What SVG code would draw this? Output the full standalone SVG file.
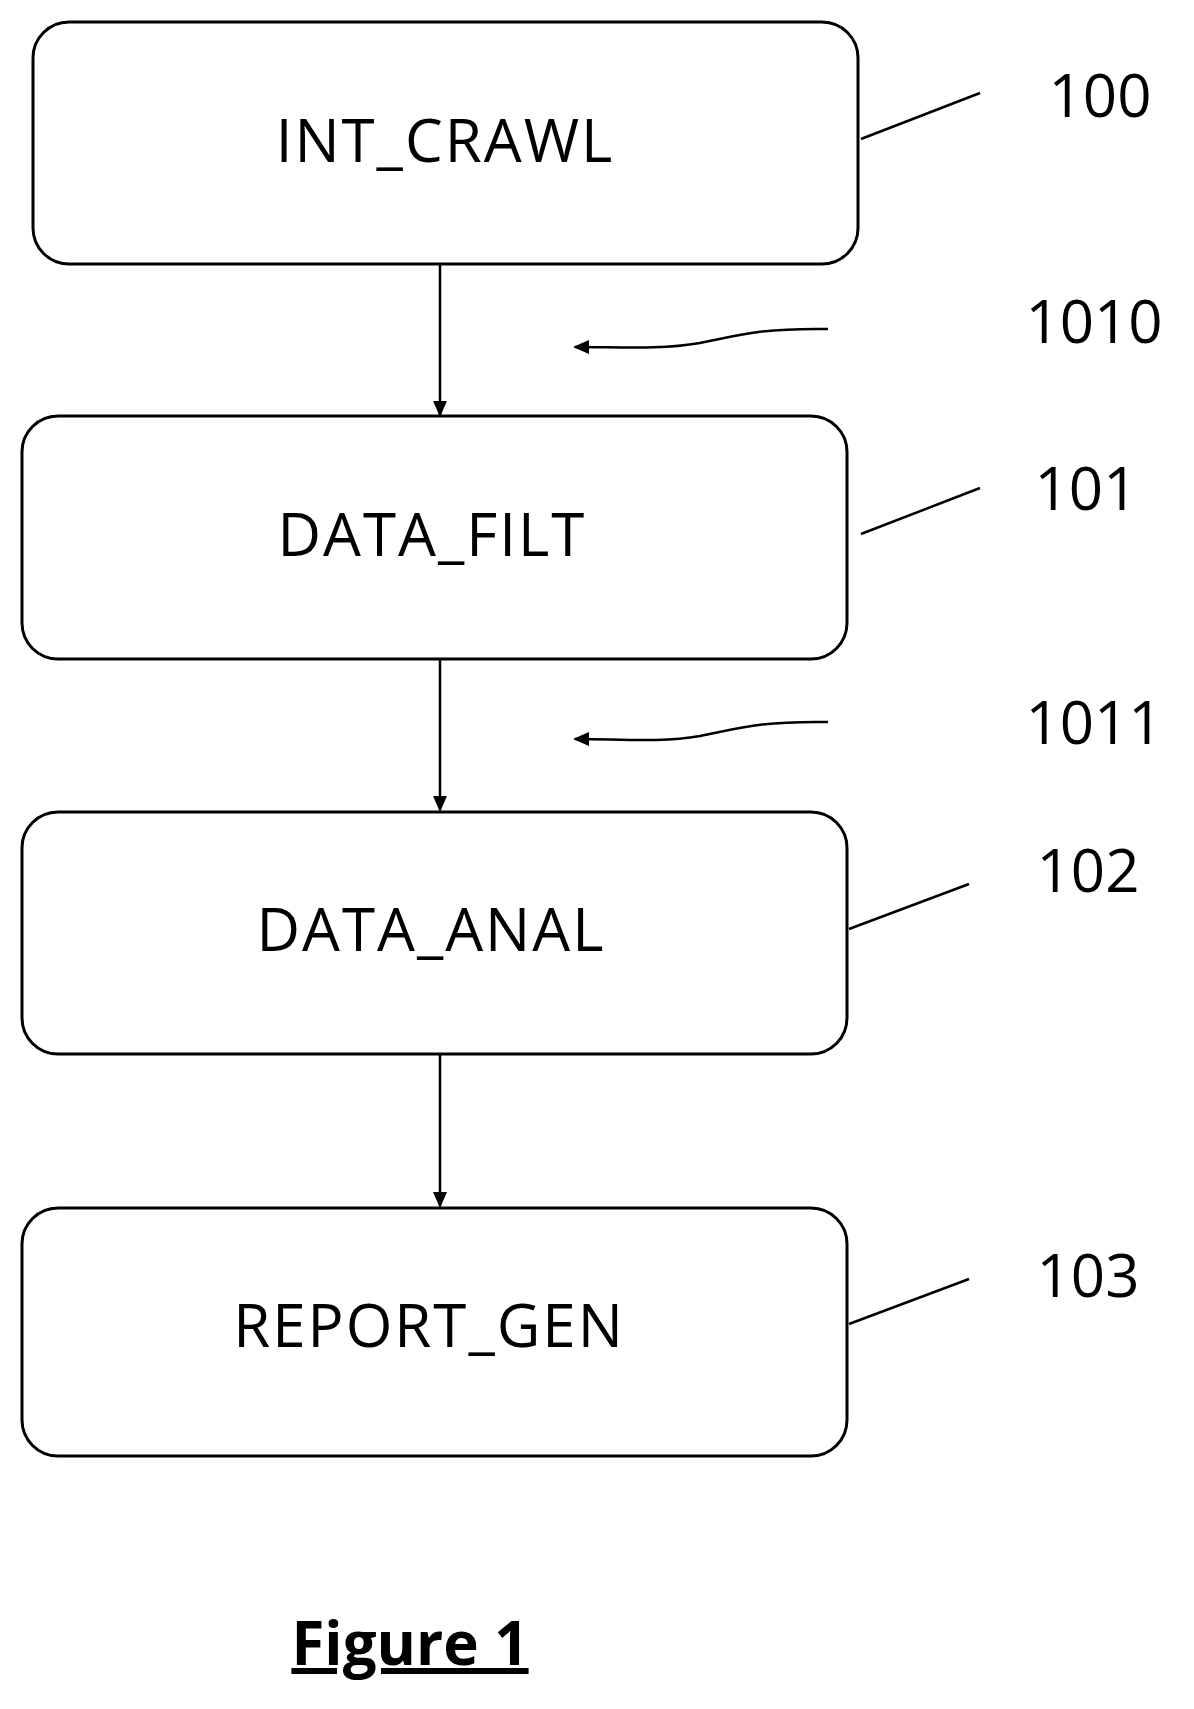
<svg xmlns="http://www.w3.org/2000/svg" width="1194" height="1709" viewBox="0 0 1194 1709">
<defs>
<style>
.box{fill:#fff;stroke:#000;stroke-width:3}
.t{font-family:"Open Sans","Liberation Sans",sans-serif;font-size:60px;letter-spacing:2px;text-anchor:middle;fill:#000}
.n{font-family:"Open Sans","Liberation Sans",sans-serif;font-size:60px;text-anchor:middle;fill:#000}
.c{stroke:#000;stroke-width:2.5;fill:none}
</style>
<marker id="ah" markerWidth="16" markerHeight="14" refX="14" refY="7" orient="auto" markerUnits="userSpaceOnUse">
<path d="M0,0 L16,7 L0,14 z" fill="#000"/>
</marker>
</defs>
<rect width="1194" height="1709" fill="#fff"/>
<g id="n100"><rect class="box" x="33" y="22" width="825" height="242" rx="36"/><text class="t" x="445" y="162">INT_CRAWL</text></g>
<g id="n101"><rect class="box" x="22" y="416" width="825" height="243" rx="36"/><text class="t" x="432" y="556">DATA_FILT</text></g>
<g id="n102"><rect class="box" x="22" y="812" width="825" height="242" rx="36"/><text class="t" x="431" y="951">DATA_ANAL</text></g>
<g id="n103"><rect class="box" x="22" y="1208" width="825" height="248" rx="36"/><text class="t" x="429" y="1347">REPORT_GEN</text></g>
<g id="connectors">
<line class="c" x1="440" y1="264" x2="440" y2="415" marker-end="url(#ah)"/>
<line class="c" x1="440" y1="659" x2="440" y2="810" marker-end="url(#ah)"/>
<line class="c" x1="440" y1="1054" x2="440" y2="1206" marker-end="url(#ah)"/>
<line class="c" x1="861" y1="139" x2="980" y2="93"/>
<line class="c" x1="861" y1="534" x2="980" y2="488"/>
<line class="c" x1="849" y1="929" x2="969" y2="884"/>
<line class="c" x1="849" y1="1324" x2="969" y2="1279"/>
<path class="c" d="M828,329 C760,328 740,335 700,343 C660,350 620,347 575,347" marker-end="url(#ah)"/>
<path class="c" d="M828,722 C760,721 740,728 700,736 C660,743 620,739 575,739" marker-end="url(#ah)"/>
</g>
<g id="labels">
<text class="n" x="1100" y="117">100</text>
<text class="n" x="1094" y="343">1010</text>
<text class="n" x="1086" y="510">101</text>
<text class="n" x="1094" y="744">1011</text>
<text class="n" x="1088" y="892">102</text>
<text class="n" x="1088" y="1297">103</text>
<text x="410" y="1665" font-family="'Open Sans','Liberation Sans',sans-serif" font-size="60" font-weight="bold" text-anchor="middle" text-decoration="underline">Figure 1</text>
</g>
</svg>
